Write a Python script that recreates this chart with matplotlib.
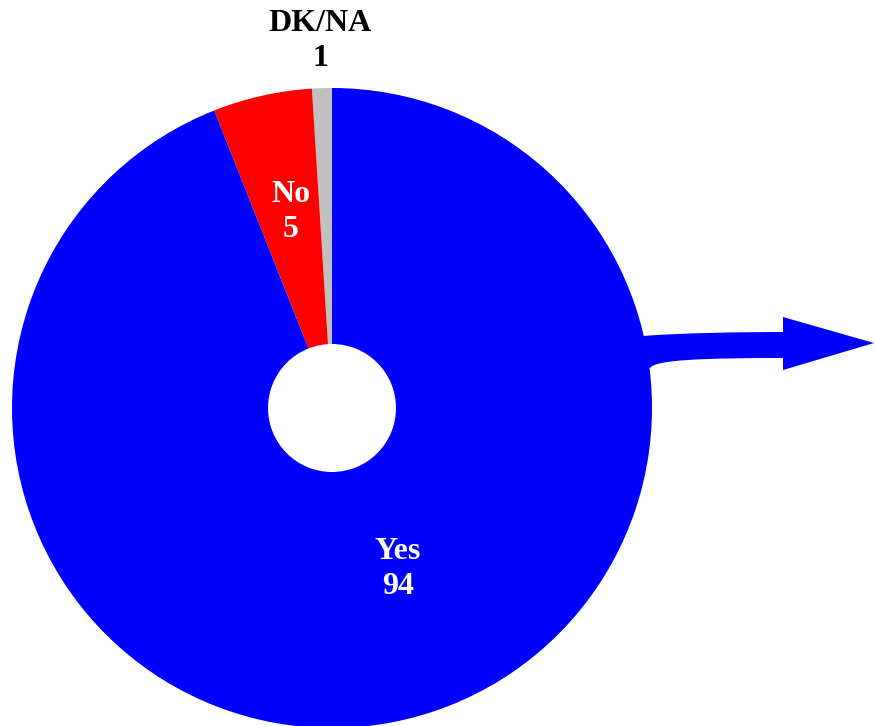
import matplotlib
matplotlib.use('Agg')
import matplotlib.pyplot as plt
from matplotlib.path import Path
from matplotlib.patches import PathPatch, Circle

# data
labels = ['DK/NA', 'No', 'Yes']
values = [1, 5, 94]
colors = ['#C0C0C0', '#FF0000', '#0000FF']
label_colors = ['black', 'white', 'white']

W, H = 874, 726
fig = plt.figure(figsize=(W / 100, H / 100), dpi=100)
ax = fig.add_axes([0, 0, 1, 1])

cx, cy, R = 332, H - 408, 320

# arrow leaving the pie on the right (pixel coords, y from top)
def p(x, y):
    return (x, H - y)

verts = [p(630, 338), p(643, 336),
         p(680, 333), p(740, 332), p(783, 332),
         p(783, 317), p(874, 343), p(783, 370), p(783, 358),
         p(700, 358), p(655, 360), p(650, 368),
         p(630, 368), p(630, 338)]
codes = [Path.MOVETO, Path.LINETO,
         Path.CURVE4, Path.CURVE4, Path.CURVE4,
         Path.LINETO, Path.LINETO, Path.LINETO, Path.LINETO,
         Path.CURVE4, Path.CURVE4, Path.CURVE4,
         Path.LINETO, Path.CLOSEPOLY]
ax.add_patch(PathPatch(Path(verts, codes), facecolor='#0000FF', edgecolor='none'))

wedges, _ = ax.pie(values, colors=colors, startangle=90, counterclock=True,
                   radius=R, center=(cx, cy), frame=True,
                   wedgeprops=dict(linewidth=0))
ax.set_xlim(0, W)
ax.set_ylim(0, H)
ax.axis('off')
ax.add_patch(Circle((cx, cy), 64, facecolor='white', edgecolor='none', zorder=5))

font = dict(family='Liberation Serif', fontweight='bold', fontsize=23,
            ha='center', va='center', linespacing=1.3)
pos = [(320, H - 41), (291, H - 212), (398, H - 569)]
for lab, v, (x, y), c in zip(labels, values, pos, label_colors):
    ax.text(x, y, f'{lab}\n{v}', color=c, **font)

fig.savefig('out.png', dpi=100)
